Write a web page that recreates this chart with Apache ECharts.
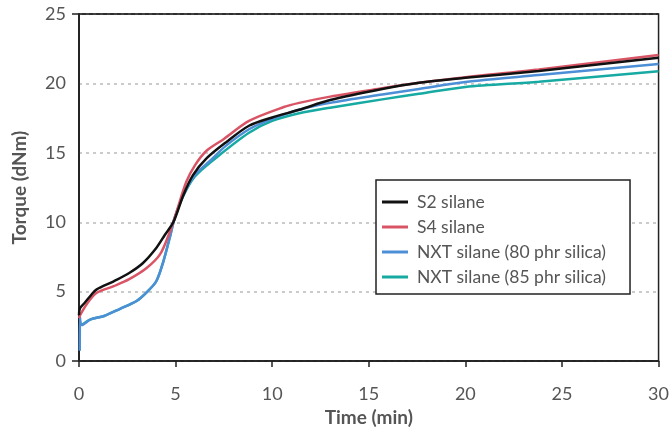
<!DOCTYPE html>
<html>
<head>
<meta charset="utf-8">
<script src="https://cdn.jsdelivr.net/npm/echarts@6/dist/echarts.min.js"></script>
<style>
  html, body { margin: 0; padding: 0; background: #fff; }
  #chart { width: 672px; height: 432px; }
</style>
</head>
<body>
<div id="chart"></div>
<script>
// values
const seriesNames = ['S2 silane', 'S4 silane', 'NXT silane (80 phr silica)', 'NXT silane (85 phr silica)'];

const s2Time   = [0, 0.05, 0.3, 0.65, 0.9, 1.8, 2.6, 3.3, 4.0, 4.45, 4.9, 5.4, 5.9, 6.6, 7.6, 8.8, 10.0, 11.4, 13.0, 15.7, 17.6, 20, 23.8, 30];
const s2Torque = [3.3, 3.8, 4.2, 4.8, 5.15, 5.75, 6.35, 7.05, 8.15, 9.1, 10.05, 11.95, 13.4, 14.6, 15.75, 16.95, 17.55, 18.1, 18.8, 19.6, 20.05, 20.4, 20.9, 21.85];

const s4Time   = [0, 0.05, 0.4, 0.9, 1.8, 2.6, 3.5, 4.2, 4.7, 5.05, 5.55, 6.0, 6.6, 7.5, 8.8, 10.6, 11.4, 13.0, 15.7, 17.6, 20, 23.8, 30];
const s4Torque = [3.1, 3.3, 4.1, 4.9, 5.4, 5.9, 6.7, 7.7, 9.3, 10.75, 12.9, 14.1, 15.15, 16.0, 17.3, 18.3, 18.6, 19.05, 19.65, 20.05, 20.45, 21.0, 22.05];

const nxt80Time   = [0.04, 0.05, 0.14, 0.6, 1.3, 2.1, 3.0, 3.5, 4.0, 4.35, 4.7, 4.95, 5.4, 6.0, 6.8, 7.6, 8.8, 10.0, 11.4, 13.0, 15.7, 17.6, 20, 23.8, 30];
const nxt80Torque = [0.75, 3.15, 2.6, 3.0, 3.25, 3.75, 4.35, 4.95, 5.75, 7.1, 8.9, 10.3, 11.95, 13.4, 14.45, 15.5, 16.7, 17.45, 18.1, 18.6, 19.2, 19.6, 20.1, 20.6, 21.4];

const nxt85Time   = [0.14, 0.6, 1.3, 2.1, 3.0, 3.5, 4.0, 4.35, 4.7, 4.95, 5.4, 6.0, 7.1, 8.8, 10.0, 11.4, 13.0, 15.7, 17.6, 20, 23.8, 30];
const nxt85Torque = [2.6, 3.0, 3.25, 3.75, 4.35, 4.95, 5.75, 7.1, 8.9, 10.3, 11.9, 13.3, 14.65, 16.45, 17.3, 17.85, 18.25, 18.85, 19.25, 19.75, 20.12, 20.88];

const colors = ['#111111', '#d95566', '#4c8fd6', '#17aaa2'];

const pairs = (ts, vs) => ts.map((t, i) => [t, vs[i]]);
const allData = [
  pairs(s2Time, s2Torque),
  pairs(s4Time, s4Torque),
  pairs(nxt80Time, nxt80Torque),
  pairs(nxt85Time, nxt85Torque),
];
const zOrder = [5, 4, 3, 2];

const chart = echarts.init(document.getElementById('chart'));
const font = 'Lato, "Noto Sans", sans-serif';

const option = {
  animation: false,
  backgroundColor: '#fff',
  color: colors,
  grid: {
    left: 79, right: 13, top: 14, bottom: 68,
    show: true, borderColor: '#222', borderWidth: 1.5
  },
  legend: {
    orient: 'vertical',
    left: 376, top: 180,
    icon: 'rect',
    itemWidth: 26, itemHeight: 3,
    itemGap: 7,
    padding: [13, 24, 8, 6],
    borderColor: '#222', borderWidth: 1.5,
    backgroundColor: '#fff',
    textStyle: { fontFamily: font, fontSize: 17.5, color: '#555', lineHeight: 17, padding: [0, 0, 0, 4] },
    data: seriesNames
  },
  xAxis: {
    type: 'value',
    min: 0, max: 30, interval: 5,
    name: 'Time (min)',
    nameLocation: 'middle',
    nameGap: 44,
    nameTextStyle: { fontFamily: font, fontSize: 19, fontWeight: 'bold', color: '#555' },
    axisLine: { lineStyle: { color: '#222', width: 1.5 } },
    axisTick: { show: true, length: 6, lineStyle: { color: '#222', width: 1.5 } },
    axisLabel: { fontFamily: font, fontSize: 18, color: '#555', margin: 24 },
    splitLine: { show: false }
  },
  yAxis: [
    {
      type: 'value',
      min: 0, max: 25, interval: 5,
      name: 'Torque (dNm)',
      nameLocation: 'middle',
      nameGap: 50,
      nameTextStyle: { fontFamily: font, fontSize: 19, fontWeight: 'bold', color: '#555' },
      axisLine: { show: true, lineStyle: { color: '#222', width: 1.5 } },
      axisTick: { show: false },
      axisLabel: { fontFamily: font, fontSize: 18, color: '#555', margin: 13 },
      splitLine: { show: true, lineStyle: { color: '#bbb', width: 1.5, type: [3, 4] } }
    },
    {
      // frame lines at 0 and 25, with short ticks poking out to the left
      type: 'value',
      min: 0, max: 25, interval: 25,
      position: 'left',
      z: 3,
      axisLine: { show: true, lineStyle: { color: '#222', width: 1.5 } },
      axisTick: { show: true, length: 7, lineStyle: { color: '#222', width: 1.5 } },
      axisLabel: { show: false },
      splitLine: { show: true, lineStyle: { color: '#222', width: 1.5, type: 'solid' } }
    }
  ],
  series: allData.map((d, i) => ({
    name: seriesNames[i],
    type: 'line',
    data: d,
    z: zOrder[i],
    showSymbol: false,
    smooth: 0.3,
    lineStyle: { width: 2.5, color: colors[i] },
    itemStyle: { color: colors[i] }
  }))
};

chart.setOption(option);
</script>
</body>
</html>
